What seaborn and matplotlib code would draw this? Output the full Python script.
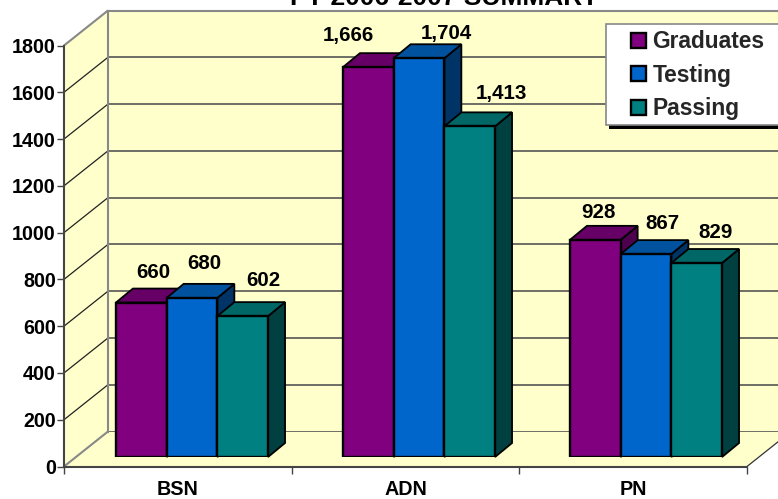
import matplotlib
matplotlib.use("Agg")
import matplotlib.pyplot as plt
import pandas as pd
import seaborn as sns
from matplotlib.patches import Polygon, Rectangle

categories = ["BSN", "ADN", "PN"]
series_names = ["Graduates", "Testing", "Passing"]
graduates = [660, 1666, 928]
testing = [680, 1704, 867]
passing = [602, 1413, 829]
y_ticks = [0, 200, 400, 600, 800, 1000, 1200, 1400, 1600, 1800]
title_text = "FY 2006-2007 SUMMARY"

# label placement relative to the bar tops, in pixels (dx, dy)
label_offsets = {
    "Graduates": [(12, 30), (-20, 32), (3, 27)],
    "Testing": [(12, 34), (27, 25), (16, 31)],
    "Passing": [(21, 36), (32, 33), (19, 31)],
}
front_colors = {"Graduates": "#800080", "Testing": "#0066CC", "Passing": "#008080"}
top_colors = {"Graduates": "#660066", "Testing": "#00529F", "Passing": "#006666"}
side_colors = {"Graduates": "#4D004D", "Testing": "#003366", "Passing": "#004040"}

W, H = 778, 499
FONT = "Liberation Sans"
FS_TICK = 14.2
FS_LABEL = 14.8
FS_LEGEND = 16.4
YELLOW = "#FFFFCC"
GRID = "#555555"

sns.set_theme(style="white")
plt.rcParams["font.family"] = FONT
fig = plt.figure(figsize=(W / 100, H / 100), dpi=100, facecolor="white")


def box(l, t, r, b):
    return [l / W, 1 - b / H, (r - l) / W, (b - t) / H]


# Pixel-space layer for side wall and floor
FL, FR, F0, F1800 = 64, 747, 466.5, 45.5
DX, DY = 44, 35
ax_bg = fig.add_axes([0, 0, 1, 1], zorder=0)
ax_bg.set_xlim(0, W)
ax_bg.set_ylim(H, 0)
ax_bg.set_axis_off()
ax_bg.add_patch(Polygon([(FL, F0), (FL + DX, F0 - DY), (FL + DX, F1800 - DY), (FL, F1800)],
                        facecolor=YELLOW, edgecolor="none"))
ax_bg.add_patch(Polygon([(FL, F0), (FL + DX, F0 - DY), (FR + DX, F0 - DY), (FR, F0)],
                        facecolor=YELLOW, edgecolor="none"))
for v in y_ticks:
    yy = F0 + (F1800 - F0) * v / 1800
    ax_bg.plot([FL, FL + DX], [yy, yy - DY], color="#888888" if v in (0, 1800) else "#222222",
               lw=1.5 if v in (0, 1800) else 0.9, solid_capstyle="butt")
ax_bg.plot([FR, FR + DX], [F0, F0 - DY], color="#333333", lw=0.9)

# Back wall
ax_back = fig.add_axes(box(FL + DX, F1800 - DY, FR + DX, F0 - DY), zorder=1, facecolor=YELLOW)
ax_back.set_ylim(0, 1800)
ax_back.set_xlim(0, 1)
ax_back.set_yticks(y_ticks)
ax_back.set_xticks([])
ax_back.tick_params(left=False, labelleft=False)
ax_back.grid(axis="y", color=GRID, lw=1.2)
ax_back.set_axisbelow(True)
for name, s in ax_back.spines.items():
    s.set_visible(name in ("top", "left"))
    s.set_color("#888888")
    s.set_linewidth(1.5)

# Front axis with ticks and labels
ax_front = fig.add_axes(box(FL, F1800, FR, F0), zorder=2)
ax_front.patch.set_visible(False)
ax_front.set_xlim(-0.5, 2.5)
ax_front.set_ylim(0, 1800)
ax_front.set_yticks(y_ticks)
ax_front.set_yticklabels([str(v) for v in y_ticks], fontsize=FS_TICK, fontweight="bold", color="black")
ax_front.set_xticks([-0.5, 0.5, 1.5, 2.5])
ax_front.set_xticklabels([])
ax_front.set_xticks([0, 1, 2], minor=True)
ax_front.set_xticklabels(categories, minor=True, fontsize=FS_TICK, fontweight="bold", color="black")
ax_front.tick_params(axis="x", which="major", length=5, width=1, color="#444444", bottom=True)
ax_front.tick_params(axis="x", which="minor", length=0, pad=10, bottom=False)
ax_front.tick_params(axis="y", length=5, width=1, color="#444444", pad=1, left=True)
for name, s in ax_front.spines.items():
    s.set_visible(name in ("left", "bottom"))
    s.set_color("#444444")
    s.set_linewidth(1.5)

# Bars, on the plane halfway into the depth of the chart
PX_PER_UNIT = 0.234
CAT_W = 227
BASE_Y = 457
cx0 = 192
ax_bar = fig.add_axes(box(cx0 - CAT_W / 2, BASE_Y - 1800 * PX_PER_UNIT, cx0 + 2.5 * CAT_W, BASE_Y), zorder=3)
ax_bar.patch.set_visible(False)
df = pd.DataFrame({
    "cat": categories * 3,
    "series": [s for s in series_names for _ in categories],
    "value": graduates + testing + passing,
})
sns.barplot(data=df, x="cat", y="value", hue="series", order=categories, hue_order=series_names,
            palette=front_colors, saturation=1, width=0.67, gap=0, edgecolor="black", linewidth=1.7,
            errorbar=None, ax=ax_bar)
handles, labels = ax_bar.get_legend_handles_labels()
ax_bar.get_legend().remove()
ax_bar.set_xlim(-0.5, 2.5)
ax_bar.set_ylim(0, 1800)
ax_bar.set_axis_off()

dx = 17 / CAT_W
dy = 14 / PX_PER_UNIT
for si, (name, cont) in enumerate(zip(series_names, ax_bar.containers)):
    for ci, bar in enumerate(cont):
        x0, x1, h = bar.get_x(), bar.get_x() + bar.get_width(), bar.get_height()
        z = 10 + ci * 10 + si * 3
        bar.set_zorder(z + 2)
        ax_bar.add_patch(Polygon([(x1, 0), (x1 + dx, dy), (x1 + dx, h + dy), (x1, h)],
                                 facecolor=side_colors[name], edgecolor="black", lw=1.3,
                                 zorder=z, clip_on=False))
        ax_bar.add_patch(Polygon([(x0, h), (x0 + dx, h + dy), (x1 + dx, h + dy), (x1, h)],
                                 facecolor=top_colors[name], edgecolor="black", lw=1.3,
                                 zorder=z + 1, clip_on=False))
        ox, oy = label_offsets[name][ci]
        ax_bar.annotate(f"{int(h):,}", ((x0 + x1) / 2, h), xytext=(ox * 0.72, oy * 0.72),
                        textcoords="offset points", ha="center", va="center", fontsize=FS_LABEL,
                        fontweight="bold", color="black", zorder=100, annotation_clip=False)

# Legend box and shadow
fig.add_artist(Rectangle((609 / W, 1 - 129 / H), 190 / W, 100 / H, transform=fig.transFigure,
                         facecolor="black", edgecolor="none", zorder=4))
fig.add_artist(Rectangle((606 / W, 1 - 125 / H), 190 / W, 101 / H, transform=fig.transFigure,
                         facecolor="white", edgecolor="#888888", lw=1.2, zorder=4.5))
fig.legend(handles, labels, loc="upper left", bbox_to_anchor=(622 / W, 1 - 21 / H), frameon=False,
           prop={"family": FONT, "weight": "bold", "size": FS_LEGEND}, labelspacing=0.46, handlelength=0.64,
           handleheight=0.64, handletextpad=0.3, borderpad=0.4, borderaxespad=0)

fig.text(444 / W, 1 - 5 / H, title_text, ha="center", va="baseline", fontsize=19, fontweight="bold",
         color="black")

fig.savefig("out.png", dpi=100, facecolor="white")
